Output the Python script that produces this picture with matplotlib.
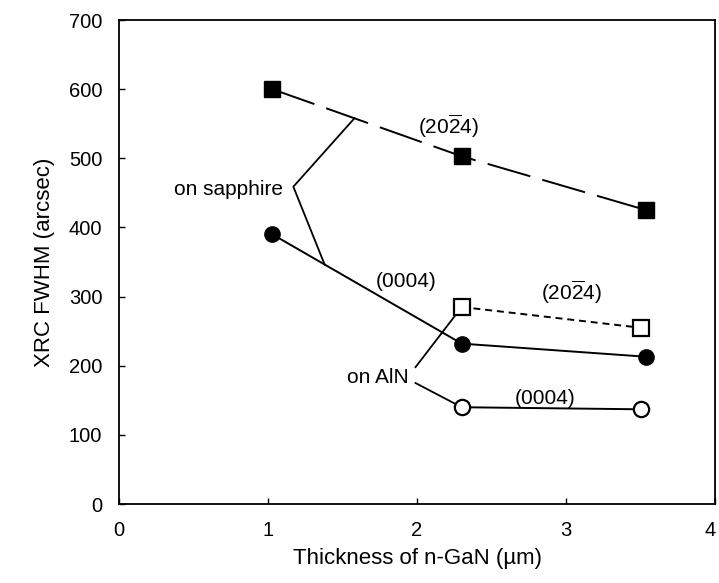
import numpy as np
import matplotlib
matplotlib.use("Agg")
import matplotlib.pyplot as plt
from matplotlib.transforms import ScaledTranslation

# XRC FWHM versus n-GaN thickness
thickness_sapphire = [1.03, 2.30, 3.54]
fwhm_sapphire_2024 = [600, 503, 425]
fwhm_sapphire_0004 = [390, 232, 213]

thickness_aln = [2.30, 3.50]
fwhm_aln_2024 = [285, 255]
fwhm_aln_0004 = [140, 137]

x_ticks = [0, 1, 2, 3, 4]
y_ticks = [0, 100, 200, 300, 400, 500, 600, 700]

plt.rcParams["font.family"] = ["Liberation Sans", "DejaVu Sans"]
plt.rcParams["mathtext.fontset"] = "custom"
plt.rcParams["mathtext.rm"] = "Liberation Sans"
plt.rcParams["mathtext.it"] = "Liberation Sans"
plt.rcParams["lines.scale_dashes"] = False

fig = plt.figure(figsize=(7.19, 5.83), dpi=100)
ax = fig.add_axes([0.1655, 0.1355, 0.829, 0.830])

lw = 1.4
# sapphire template
ax.plot(thickness_sapphire, fwhm_sapphire_2024, color="k", lw=lw, dashes=(32, 9),
        marker="s", ms=11, mfc="k", mec="k", zorder=3)
ax.plot(thickness_sapphire, fwhm_sapphire_0004, color="k", lw=lw, ls="-",
        marker="o", ms=11, mfc="k", mec="k", zorder=3)
# AlN template
ax.plot(thickness_aln, fwhm_aln_2024, color="k", lw=lw, dashes=(5, 3.5),
        marker="s", ms=11, mfc="white", mec="k", mew=1.6, zorder=3)
ax.plot(thickness_aln, fwhm_aln_0004, color="k", lw=lw, ls="-",
        marker="o", ms=11, mfc="white", mec="k", mew=1.6, zorder=3)

fs = 15
# "on sapphire" bracket pointing to both sapphire curves
vx, vy = 1.17, 459
x_up, x_dn = 1.58, 1.38
y_up = np.interp(x_up, thickness_sapphire, fwhm_sapphire_2024)
y_dn = np.interp(x_dn, thickness_sapphire, fwhm_sapphire_0004)
ax.plot([x_up, vx, x_dn], [y_up, vy, y_dn], color="k", lw=1.3, zorder=2)
ax.text(1.10, 455, "on sapphire", ha="right", va="center", fontsize=fs)

# "on AlN" leaders to the AlN curves
ax.plot([1.99, thickness_aln[0]], [198, fwhm_aln_2024[0]], color="k", lw=1.3, zorder=2)
ax.plot([1.99, thickness_aln[0]], [175, fwhm_aln_0004[0]], color="k", lw=1.3, zorder=2)
ax.text(1.74, 183, "on AlN", ha="center", va="center", fontsize=fs)

# reflection labels
ax.text(2.21, 546, r"(20$\overline{2}$4)", ha="center", va="center", fontsize=fs)
ax.text(1.93, 322, "(0004)", ha="center", va="center", fontsize=fs)
ax.text(3.04, 306, r"(20$\overline{2}$4)", ha="center", va="center", fontsize=fs)
ax.text(2.86, 153, "(0004)", ha="center", va="center", fontsize=fs)

ax.set_xlim(0, 4)
ax.set_ylim(0, 700)
ax.set_xticks(x_ticks)
ax.set_yticks(y_ticks)
ax.tick_params(axis="both", direction="in", length=4, width=1, labelsize=14.5,
               top=False, right=False)
ax.tick_params(axis="y", pad=12)
ax.tick_params(axis="x", pad=12)
for sp in ax.spines.values():
    sp.set_linewidth(1.3)

# keep the last x tick label inside the figure edge
last = ax.get_xticklabels()[-1]
last.set_transform(last.get_transform() + ScaledTranslation(-5 / 100, 0, fig.dpi_scale_trans))

ax.set_xlabel("Thickness of n-GaN (\u00b5m)", fontsize=16, labelpad=6)
ax.set_ylabel("XRC FWHM (arcsec)", fontsize=16, labelpad=10)

fig.savefig("out.png", dpi=100)
